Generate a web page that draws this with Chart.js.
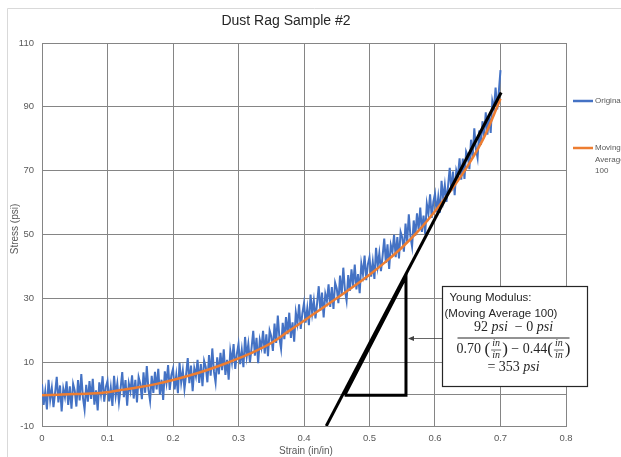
<!DOCTYPE html>
<html>
<head>
<meta charset="utf-8">
<script src="https://cdn.jsdelivr.net/npm/chart.js@4/dist/chart.umd.min.js"></script>
<style>
  html, body { margin: 0; padding: 0; background: #fff; }
</style>
</head>
<body>
<canvas id="chart" width="621" height="457"></canvas>
<script>
// raw signal, one reading every 0.0025 in/in from 0 to 0.7
const strainStep = 0.0025;
const originalStress = [
  3.1, -3.4, 0.8, -4.8, 4.5, -1.8, 1.9, -4.1, 0.4, 5.4,
  -2.6, 2.7, -5.4, 1.7, -0.9, 4.0, -3.4, 2.4, -4.6, 3.2,
  1.1, -3.9, 4.4, -2.0, 6.3, -1.1, -4.8, 2.9, -2.4, 4.1,
  -1.5, 4.8, -3.3, 1.2, -5.1, 3.7, 0.0, 5.6, -2.4, 2.2,
  4.1, -2.3, 2.0, -3.7, 5.7, -0.5, 3.3, -2.6, 1.8, 6.9,
  -1.0, 4.4, -3.6, 3.4, 0.9, 5.9, -1.4, 4.5, -2.6, 5.3,
  3.3, -1.6, 6.8, 0.4, 8.8, 1.5, -2.1, 5.7, 0.4, 7.0,
  1.5, 7.9, -0.2, 4.5, -1.8, 7.1, 3.5, 9.1, 1.3, 5.9,
  7.9, 1.5, 5.9, 0.3, 9.8, 3.6, 7.4, 1.6, 6.1, 11.3,
  3.4, 8.9, 0.9, 8.1, 5.6, 10.7, 3.5, 9.4, 2.5, 10.4,
  8.5, 3.7, 12.2, 5.8, 14.3, 7.1, 3.6, 11.5, 6.2, 12.9,
  7.5, 14.0, 6.0, 10.7, 4.5, 13.5, 10.0, 15.7, 7.9, 12.6,
  15.7, 9.4, 13.8, 8.4, 17.9, 11.8, 15.7, 9.9, 14.6, 19.8,
  12.0, 17.6, 9.7, 17.0, 14.6, 19.8, 12.7, 18.7, 11.9, 19.9,
  18.1, 13.5, 22.1, 16.0, 24.6, 17.6, 14.2, 22.3, 17.2, 24.1,
  18.8, 25.5, 17.6, 22.5, 16.4, 25.6, 22.2, 28.1, 20.4, 25.3,
  28.5, 22.4, 26.9, 21.6, 31.2, 25.3, 29.3, 23.7, 28.4, 33.8,
  26.1, 31.8, 24.0, 31.4, 29.1, 34.4, 27.3, 33.5, 26.7, 34.9,
  33.1, 28.5, 37.1, 31.0, 39.6, 32.6, 29.3, 37.3, 32.3, 39.1,
  33.9, 40.6, 32.8, 37.6, 31.6, 40.8, 37.5, 43.4, 35.7, 40.6,
  42.9, 36.8, 41.4, 36.1, 45.8, 40.0, 44.1, 38.5, 43.3, 48.7,
  41.1, 46.9, 39.2, 46.7, 44.5, 49.9, 42.9, 49.2, 42.5, 50.8,
  49.1, 44.6, 53.4, 47.5, 56.3, 49.4, 46.2, 54.4, 49.6, 56.6,
  51.5, 58.4, 50.8, 55.9, 50.1, 59.6, 56.5, 62.6, 55.2, 60.3,
  62.8, 57.0, 61.8, 56.8, 66.8, 61.2, 65.5, 60.2, 65.3, 70.9,
  63.6, 69.7, 62.3, 70.1, 68.2, 73.9, 67.2, 73.8, 67.4, 76.0,
  74.6, 70.5, 79.7, 74.1, 83.3, 76.8, 74.0, 82.6, 78.1, 85.5,
  80.8, 88.3, 81.3, 87.0, 81.8, 91.8, 89.3, 96.0, 89.2, 94.9,
  101.5
];

// moving average (100)
const avgStrain = [0, 0.025, 0.05, 0.075, 0.1, 0.125, 0.15, 0.175, 0.2, 0.225,
  0.25, 0.275, 0.3, 0.325, 0.35, 0.375, 0.4, 0.425, 0.45, 0.475,
  0.5, 0.525, 0.55, 0.575, 0.6, 0.625, 0.65, 0.675, 0.7];
const avgStress = [-0.4, -0.2, 0.0, 0.2, 0.6, 1.4, 2.2, 3.2, 4.4, 5.8,
  7.4, 9.2, 11.2, 13.4, 16.0, 19.5, 23.0, 26.5, 30.0, 33.6,
  37.4, 41.5, 46.0, 51.2, 57.3, 64.0, 71.5, 80.5, 92.5];

// modulus tangent and slope triangle
const tangentStrain = [0.434, 0.701];
const tangentStress = [-10, 94.5];
const triangleStrain = [0.462, 0.5557, 0.5557, 0.462];
const triangleStress = [-0.4, -0.4, 36.8, -0.4];

const xTicks = { min: 0, max: 0.8, step: 0.1 };
const yTicks = { min: -10, max: 110, step: 20 };

const BLUE = '#4472C4';
const ORANGE = '#ED7D31';
const GRID = '#858585';
const TEXT = '#595959';

const pts = (xs, ys) => xs.map((x, i) => ({ x: x, y: ys[i] }));

const extras = {
  id: 'extras',
  beforeDraw(chart) {
    const ctx = chart.ctx;
    ctx.save();
    ctx.fillStyle = '#fff';
    ctx.fillRect(0, 0, chart.width, chart.height);
    ctx.strokeStyle = '#d9d9d9';
    ctx.lineWidth = 1;
    ctx.beginPath();
    ctx.moveTo(7.5, chart.height);
    ctx.lineTo(7.5, 8.5);
    ctx.lineTo(chart.width, 8.5);
    ctx.stroke();
    ctx.restore();
  },
  beforeDatasetsDraw(chart) {
    // horizontal axis crosses at 0
    const { ctx, chartArea, scales } = chart;
    const py = Math.round(scales.y.getPixelForValue(0)) + 0.5;
    ctx.save();
    ctx.strokeStyle = GRID;
    ctx.lineWidth = 1;
    ctx.beginPath();
    ctx.moveTo(chartArea.left, py);
    ctx.lineTo(chartArea.right, py);
    ctx.stroke();
    ctx.restore();
  },
  afterDraw(chart) {
    const { ctx, scales } = chart;
    ctx.save();

    // title and axis titles
    ctx.fillStyle = '#262626';
    ctx.textAlign = 'center';
    ctx.textBaseline = 'middle';
    ctx.font = '14px "Liberation Sans", Arial, sans-serif';
    ctx.fillText('Dust Rag Sample #2', 286, 21);
    ctx.fillStyle = TEXT;
    ctx.font = '10px "Liberation Sans", Arial, sans-serif';
    ctx.fillText('Strain (in/in)', 306, 451);
    ctx.save();
    ctx.translate(15, 229);
    ctx.rotate(-Math.PI / 2);
    ctx.fillText('Stress (psi)', 0, 0);
    ctx.restore();

    // legend
    ctx.textAlign = 'left';
    ctx.font = '8px "Liberation Sans", Arial, sans-serif';
    const legendRows = [
      { ds: chart.data.datasets[0], y: 101 },
      { ds: chart.data.datasets[1], y: 148 }
    ];
    legendRows.forEach(row => {
      ctx.strokeStyle = row.ds.borderColor;
      ctx.lineWidth = 2.5;
      ctx.beginPath();
      ctx.moveTo(573, row.y);
      ctx.lineTo(593, row.y);
      ctx.stroke();
      ctx.fillStyle = TEXT;
      row.ds.label.split(' ').forEach((w, i) => ctx.fillText(w, 595, row.y + i * 11.5));
    });

    // annotation box
    const L = Math.round(scales.x.getPixelForValue(0.611)) + 0.5;
    const T = Math.round(scales.y.getPixelForValue(33.8)) + 0.5;
    const W = 145, H = 100;
    const legX = scales.x.getPixelForValue(triangleStrain[1]);
    const ay = T + 52;
    ctx.strokeStyle = '#404040';
    ctx.fillStyle = '#404040';
    ctx.lineWidth = 0.8;
    ctx.beginPath();
    ctx.moveTo(L, ay);
    ctx.lineTo(legX + 6, ay);
    ctx.stroke();
    ctx.beginPath();
    ctx.moveTo(legX + 2, ay);
    ctx.lineTo(legX + 8, ay - 2.5);
    ctx.lineTo(legX + 8, ay + 2.5);
    ctx.closePath();
    ctx.fill();

    ctx.fillStyle = '#fff';
    ctx.fillRect(L, T, W, H);
    ctx.strokeStyle = '#262626';
    ctx.lineWidth = 1.2;
    ctx.strokeRect(L, T, W, H);

    ctx.fillStyle = '#262626';
    ctx.textBaseline = 'middle';
    ctx.font = '11.5px "Liberation Sans", Arial, sans-serif';
    ctx.fillText('Young Modulus:', L + 7, T + 11);
    ctx.fillText('(Moving Average 100)', L + 2, T + 27);

    const roman = '14px "Liberation Serif", "Times New Roman", serif';
    const italic = 'italic 14px "Liberation Serif", "Times New Roman", serif';
    const small = 'italic 10px "Liberation Serif", "Times New Roman", serif';
    const paren = '17px "Liberation Serif", "Times New Roman", serif';
    const cx = L + 71;

    const runLine = (parts, y) => {
      let total = 0;
      parts.forEach(p => {
        if (p.frac) {
          ctx.font = paren;
          p.w = ctx.measureText('(').width * 2 + 12;
        } else {
          ctx.font = p.f;
          p.w = ctx.measureText(p.t).width;
        }
        total += p.w;
      });
      let x = cx - total / 2;
      ctx.textAlign = 'left';
      parts.forEach(p => {
        if (p.frac) {
          ctx.font = paren;
          const pw = ctx.measureText('(').width;
          ctx.fillText('(', x, y);
          ctx.font = small;
          ctx.textAlign = 'center';
          ctx.fillText('in', x + pw + 6, y - 6);
          ctx.fillText('in', x + pw + 6, y + 6);
          ctx.textAlign = 'left';
          ctx.lineWidth = 0.7;
          ctx.beginPath();
          ctx.moveTo(x + pw + 1, y + 0.5);
          ctx.lineTo(x + pw + 11, y + 0.5);
          ctx.stroke();
          ctx.font = paren;
          ctx.fillText(')', x + pw + 12, y);
        } else {
          ctx.font = p.f;
          ctx.fillText(p.t, x, y);
        }
        x += p.w;
      });
    };

    runLine([
      { t: '92 ', f: roman }, { t: 'psi', f: italic }, { t: '  \u2212 0 ', f: roman }, { t: 'psi', f: italic }
    ], T + 41);
    ctx.strokeStyle = '#262626';
    ctx.lineWidth = 1;
    ctx.beginPath();
    ctx.moveTo(L + 15, T + 51.5);
    ctx.lineTo(L + 127, T + 51.5);
    ctx.stroke();
    runLine([
      { t: '0.70 ', f: roman }, { frac: true }, { t: ' \u2212 0.44', f: roman }, { frac: true }
    ], T + 63);
    runLine([
      { t: '= 353 ', f: roman }, { t: 'psi', f: italic }
    ], T + 81);

    ctx.restore();
  }
};

new Chart(document.getElementById('chart'), {
  type: 'line',
  data: {
    datasets: [
      {
        label: 'Original',
        data: originalStress.map((v, i) => ({ x: i * strainStep, y: v })),
        borderColor: BLUE,
        borderWidth: 2,
        pointRadius: 0,
        tension: 0,
        order: 4
      },
      {
        label: 'Moving Average 100',
        data: pts(avgStrain, avgStress),
        borderColor: ORANGE,
        borderWidth: 2.5,
        pointRadius: 0,
        cubicInterpolationMode: 'monotone',
        order: 3
      },
      {
        label: 'Triangle',
        data: pts(triangleStrain, triangleStress),
        borderColor: '#000',
        borderWidth: 3,
        pointRadius: 0,
        order: 2
      },
      {
        label: 'Tangent',
        data: pts(tangentStrain, tangentStress),
        borderColor: '#000',
        borderWidth: 3,
        pointRadius: 0,
        order: 1
      }
    ]
  },
  options: {
    responsive: false,
    animation: false,
    events: [],
    layout: { padding: { left: 0, top: 43, right: 55, bottom: 0 } },
    plugins: {
      legend: { display: false },
      title: { display: false },
      tooltip: { enabled: false }
    },
    scales: {
      x: {
        type: 'linear',
        min: xTicks.min,
        max: xTicks.max,
        ticks: { stepSize: xTicks.step, padding: 7, color: TEXT, font: { family: 'Liberation Sans', size: 9.5 } },
        grid: { color: GRID, drawTicks: false },
        border: { color: GRID },
        afterFit: s => { s.height = 31; }
      },
      y: {
        min: yTicks.min,
        max: yTicks.max,
        ticks: { stepSize: yTicks.step, padding: 8, color: TEXT, font: { family: 'Liberation Sans', size: 9.5 } },
        grid: { color: GRID, drawTicks: false },
        border: { color: GRID },
        afterFit: s => { s.width = 42; }
      }
    }
  },
  plugins: [extras]
});
</script>
</body>
</html>
